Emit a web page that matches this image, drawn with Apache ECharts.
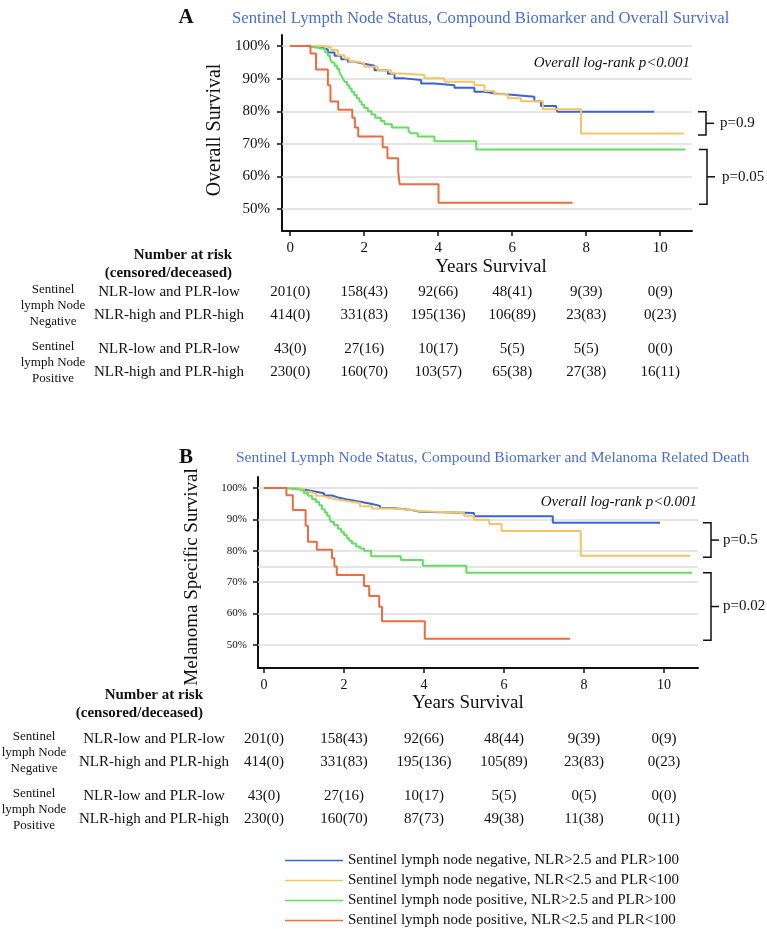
<!DOCTYPE html>
<html><head><meta charset="utf-8">
<script src="https://cdn.jsdelivr.net/npm/echarts@6/dist/echarts.min.js"></script>
<style>html,body{margin:0;padding:0;background:#fff}#c{width:767px;height:929px}</style>
</head><body><div id="c"></div>
<script>
// ---------- data ----------
const seriesNames = [
  'Sentinel lymph node negative, NLR>2.5 and PLR>100',
  'Sentinel lymph node negative, NLR<2.5 and PLR<100',
  'Sentinel lymph node positive, NLR>2.5 and PLR>100',
  'Sentinel lymph node positive, NLR<2.5 and PLR<100'
];
const seriesColors = ['#3a63d6', '#f5c563', '#62df62', '#ee6b40'];

// Panel A: overall survival (years, %)
const osBlue = [[0,100],[0.57,99.5],[0.84,99.0],[1.02,98.0],[1.2,97.0],[1.38,96.0],[1.56,95.2],[1.75,94.6],[2.0,94.0],[2.28,92.6],[2.64,91.5],[2.82,90.1],[3.09,89.6],[3.54,88.5],[3.9,88.0],[4.44,87.2],[4.98,86.0],[5.25,85.5],[5.52,85.0],[6.06,84.5],[6.6,83.1],[6.78,81.6],[7.19,80.6],[7.23,79.9],[9.84,79.9]];
const osYellow = [[0,100],[0.93,99.5],[1.11,98.8],[1.29,97.2],[1.47,96.2],[1.6,95.2],[1.83,94.7],[2.0,93.7],[2.37,92.6],[2.73,91.6],[3.0,91.1],[3.63,90.1],[4.17,89.1],[4.98,88.0],[5.25,86.2],[5.52,85.2],[5.88,84.0],[6.24,83.1],[6.83,80.6],[7.86,73.2],[10.64,73.2]];
const osGreen = [[0,100],[0.45,99.5],[0.75,99.0],[0.95,98.0],[1.02,97.0],[1.08,96.0],[1.13,95.0],[1.2,94.0],[1.27,93.0],[1.33,92.0],[1.38,91.0],[1.43,90.0],[1.48,89.0],[1.54,88.0],[1.6,87.0],[1.66,86.0],[1.73,85.0],[1.8,84.0],[1.87,83.0],[1.93,82.0],[2.0,81.0],[2.1,80.0],[2.2,79.0],[2.3,78.0],[2.45,77.0],[2.55,76.0],[2.75,75.0],[3.2,74.0],[3.25,73.3],[3.45,72.3],[3.9,70.8],[5.03,68.3],[10.68,68.3]];
const osRed = [[0,100],[0.55,97.7],[0.70,92.8],[1.02,88.0],[1.09,83.0],[1.30,80.5],[1.68,78.0],[1.75,75.0],[1.84,72.3],[2.50,69.0],[2.63,65.6],[2.92,61.5],[2.96,57.6],[4.01,52.0],[7.63,52.0]];

// Panel B: melanoma specific survival (years, %)
const mssBlue = [[0,100],[0.6,99.7],[0.9,99.3],[1.1,98.8],[1.3,98.3],[1.5,97.6],[1.7,97.0],[1.85,96.4],[2.05,95.9],[2.3,95.4],[2.5,94.9],[2.7,94.3],[2.9,93.6],[3.2,93.0],[3.7,92.4],[3.9,92.0],[5.25,91.0],[7.22,88.9],[9.9,88.9]];
const mssYellow = [[0,100],[0.85,99.5],[1.0,98.8],[1.15,98.2],[1.3,97.5],[1.45,97.0],[1.6,96.4],[1.8,95.8],[2.1,95.2],[2.4,94.2],[2.7,93.5],[3.2,93.0],[3.7,92.6],[3.9,92.1],[5.0,91.2],[5.25,89.9],[5.63,88.5],[5.94,86.3],[7.92,78.4],[10.66,78.4]];
const mssGreen = [[0,100],[0.55,99.5],[0.9,99.0],[1.0,98.3],[1.1,97.5],[1.2,96.5],[1.3,95.5],[1.38,94.5],[1.45,93.2],[1.52,92.2],[1.58,91.2],[1.64,90.2],[1.68,89.2],[1.75,88.2],[1.85,87.0],[1.93,86.0],[2.0,85.0],[2.07,84.0],[2.13,83.2],[2.2,82.3],[2.3,81.4],[2.4,80.7],[2.5,80.0],[2.68,78.3],[3.42,77.1],[3.97,75.2],[5.06,73.0],[10.7,73.0]];
const mssRed = [[0,100],[0.56,97.7],[0.72,93.0],[1.04,88.0],[1.1,82.9],[1.32,80.3],[1.7,77.6],[1.76,75.0],[1.82,72.3],[2.5,68.8],[2.63,65.6],[2.88,62.2],[2.95,57.6],[4.02,52.0],[7.65,52.0]];

const xTicks = [0, 2, 4, 6, 8, 10];
const yTicks = [50, 60, 70, 80, 90, 100];
const gridValuesA = [50, 60, 70, 80, 90, 100];
const gridValuesB = [50, 60, 70, 75, 80, 90, 100];

const riskTimes = [0, 2, 4, 6, 8, 10];
const rowLabels = ['NLR-low and PLR-low', 'NLR-high and PLR-high'];
const riskA = [
  ['201(0)','158(43)','92(66)','48(41)','9(39)','0(9)'],
  ['414(0)','331(83)','195(136)','106(89)','23(83)','0(23)'],
  ['43(0)','27(16)','10(17)','5(5)','5(5)','0(0)'],
  ['230(0)','160(70)','103(57)','65(38)','27(38)','16(11)']
];
const riskB = [
  ['201(0)','158(43)','92(66)','48(44)','9(39)','0(9)'],
  ['414(0)','331(83)','195(136)','105(89)','23(83)','0(23)'],
  ['43(0)','27(16)','10(17)','5(5)','0(5)','0(0)'],
  ['230(0)','160(70)','87(73)','49(38)','11(38)','0(11)']
];
const pValuesA = ['p=0.9', 'p=0.05'];
const pValuesB = ['p=0.5', 'p=0.02'];

// ---------- chart ----------
const FONT = '"Liberation Serif", "Times New Roman", serif';
const INK = '#111';
const chart = echarts.init(document.getElementById('c'), null, {renderer: 'canvas'});

function xAxisCfg(grid, min, max, fs) {
  return {
    gridIndex: grid, type: 'value', min: min, max: max,
    axisLine: {show: true, onZero: false, lineStyle: {color: INK, width: 2}},
    axisTick: {show: true, length: 5, customValues: xTicks, lineStyle: {color: INK, width: 1.5}},
    axisLabel: {customValues: xTicks, fontSize: fs, fontFamily: FONT, color: INK, margin: 10},
    splitLine: {show: false}
  };
}
function yAxisCfg(grid, min, max, fs, margin) {
  return {
    gridIndex: grid, type: 'value', min: min, max: max,
    axisLine: {show: true, onZero: false, lineStyle: {color: INK, width: 2}},
    axisTick: {show: true, length: 5, customValues: yTicks, lineStyle: {color: INK, width: 1.5}},
    axisLabel: {customValues: yTicks, formatter: '{value}%', fontSize: fs, fontFamily: FONT, color: INK, margin: margin},
    splitLine: {show: false}
  };
}
function gridSeries(idx, values) {
  return {
    type: 'line', xAxisIndex: idx, yAxisIndex: idx, data: [[0, 100]], silent: true, z: 1,
    showSymbol: false, symbol: 'none', lineStyle: {opacity: 0},
    markLine: {
      silent: true, z: 1, zlevel: 0, symbol: ['none', 'none'], label: {show: false}, animation: false,
      lineStyle: {color: '#dcdcdc', width: 1.5, type: 'solid'},
      emphasis: {disabled: true},
      data: values.map(v => ({yAxis: v}))
    }
  };
}
function curve(idx, k, data) {
  return {
    type: 'line', name: seriesNames[k], xAxisIndex: idx, yAxisIndex: idx, data: data,
    step: 'end', showSymbol: false, symbol: 'none', z: 6,
    lineStyle: {width: 2, color: seriesColors[k]}, itemStyle: {color: seriesColors[k]},
    emphasis: {disabled: true}
  };
}

chart.setOption({
  animation: false,
  textStyle: {fontFamily: FONT},
  grid: [
    {left: 282, top: 35, width: 410, height: 196},
    {left: 258, top: 477, width: 440, height: 191}
  ],
  xAxis: [xAxisCfg(0, -0.22, 10.86, 15), xAxisCfg(1, -0.15, 10.85, 14)],
  yAxis: [yAxisCfg(0, 43.3, 103.4, 15, 12), yAxisCfg(1, 42.68, 103.5, 11, 11)],
  legend: {
    orient: 'vertical', left: 285, top: 853, height: 76, padding: 0,
    itemWidth: 58, itemHeight: 1.5, icon: 'rect',
    itemGap: 5, selectedMode: false, data: seriesNames,
    textStyle: {fontFamily: FONT, fontSize: 15, color: INK}
  },
  series: [
    gridSeries(0, gridValuesA), gridSeries(1, gridValuesB),
    curve(0, 0, osBlue), curve(0, 1, osYellow), curve(0, 2, osGreen), curve(0, 3, osRed),
    curve(1, 0, mssBlue), curve(1, 1, mssYellow), curve(1, 2, mssGreen), curve(1, 3, mssRed)
  ]
});

function T(text, x, y, o) {
  o = o || {};
  return {
    type: 'text', x: x, y: y, rotation: o.rot || 0, silent: true,
    style: {
      text: text, fill: o.color || INK, fontSize: o.size || 15, fontFamily: FONT,
      fontWeight: o.weight || 'normal', fontStyle: o.italic ? 'italic' : 'normal',
      align: o.align || 'left', verticalAlign: 'middle'
    }
  };
}
function bracket(idx, vTop, vBot, label, gapX, textGap, out) {
  const gr = chart.getModel().getComponent('grid', idx).coordinateSystem.getRect();
  const x = gr.x + gr.width + gapX;
  const yt = chart.convertToPixel({yAxisIndex: idx}, vTop);
  const yb = chart.convertToPixel({yAxisIndex: idx}, vBot) + 1.5;
  const ym = (yt + yb) / 2;
  out.push({type: 'polyline', silent: true, shape: {points: [[x - 8, yt], [x, yt], [x, yb], [x - 8, yb]]},
            style: {stroke: INK, lineWidth: 1.5, fill: null}});
  out.push({type: 'line', silent: true, shape: {x1: x, y1: ym, x2: x + 8, y2: ym},
            style: {stroke: INK, lineWidth: 1.5}});
  out.push(T(label, x + textGap, ym, {size: 15}));
}
function table(idx, rows, rowY, labelX, groupX, nar, out) {
  const cols = riskTimes.map(t => chart.convertToPixel({xAxisIndex: idx}, t));
  out.push(T('Number at risk', nar.x, nar.y1, {weight: 'bold', align: 'right'}));
  out.push(T('(censored/deceased)', nar.x, nar.y2, {weight: 'bold', align: 'right'}));
  rows.forEach((r, i) => {
    out.push(T(rowLabels[i % 2], labelX, rowY[i], {align: 'center'}));
    r.forEach((v, j) => out.push(T(v, cols[j], rowY[i], {align: 'center'})));
  });
  [['Negative', 0], ['Positive', 2]].forEach(([word, i]) => {
    const mid = (rowY[i] + rowY[i + 1]) / 2 + 2;
    out.push(T('Sentinel', groupX, mid - 16, {size: 13, align: 'center'}));
    out.push(T('lymph Node', groupX, mid, {size: 13, align: 'center'}));
    out.push(T(word, groupX, mid + 16, {size: 13, align: 'center'}));
  });
}

const last = d => d[d.length - 1][1];
const g = [];
// Panel A
g.push(T('A', 186, 18, {size: 21, weight: 'bold', align: 'center'}));
g.push(T('Sentinel Lympth Node Status, Compound Biomarker and Overall Survival', 232, 19, {color: '#4a6fd2', size: 16.7}));
g.push(T('Overall Survival', 215, 130, {size: 20, align: 'center', rot: Math.PI / 2}));
g.push(T('Years Survival', 491, 267, {size: 19, align: 'center'}));
g.push(T('Overall log-rank p<0.001', 690, 63, {italic: true, align: 'right'}));
bracket(0, last(osBlue), last(osYellow), pValuesA[0], 14, 14, g);
bracket(0, last(osGreen), last(osRed), pValuesA[1], 15, 15, g);
table(0, riskA, [292, 315, 349, 372], 169, 53, {x: 232, y1: 255, y2: 273}, g);
// Panel B
g.push(T('B', 186, 458, {size: 21, weight: 'bold', align: 'center'}));
g.push(T('Sentinel Lymph Node Status, Compound Biomarker and Melanoma Related Death', 236, 458, {color: '#4a6fd2', size: 15.5}));
g.push(T('Melanoma Specific Survival', 192, 577, {size: 19, align: 'center', rot: Math.PI / 2}));
g.push(T('Years Survival', 468, 703, {size: 19, align: 'center'}));
g.push(T('Overall log-rank p<0.001', 697, 502, {italic: true, align: 'right'}));
bracket(1, last(mssBlue), last(mssYellow), pValuesB[0], 13, 12, g);
bracket(1, last(mssGreen), last(mssRed), pValuesB[1], 13, 12, g);
table(1, riskB, [739, 762, 796, 819], 154, 34, {x: 203, y1: 695, y2: 713}, g);

chart.setOption({graphic: {elements: g}});
</script></body></html>
